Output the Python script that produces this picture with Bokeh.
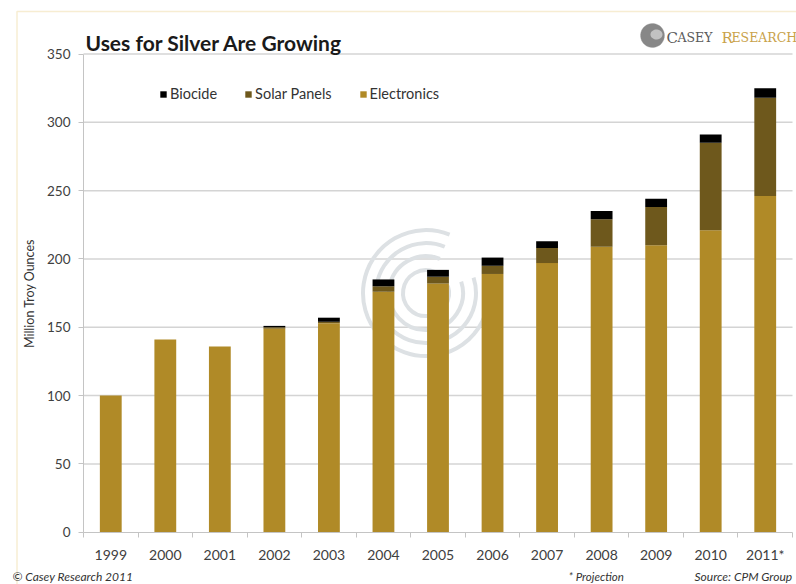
import numpy as np
from bokeh.plotting import figure
from bokeh.models import (ColumnDataSource, Range1d, FixedTicker, Legend, LegendItem,
                          Label, BoxAnnotation, PolyAnnotation, LinearAxis)
from bokeh.embed import file_html
from bokeh.resources import INLINE

# ---- data (million troy ounces) ----
years = ["1999", "2000", "2001", "2002", "2003", "2004", "2005",
         "2006", "2007", "2008", "2009", "2010", "2011*"]
electronics = [100, 141, 136, 149, 153, 176, 182, 189, 197, 209, 210, 221, 246]
solar_panels = [0, 0, 0, 1, 1, 4, 5, 6, 11, 20, 28, 64, 72]
biocide = [0, 0, 0, 1, 3, 5, 5, 6, 5, 6, 6, 6, 7]
y_ticks = [0, 50, 100, 150, 200, 250, 300, 350]

colors = ["#B08A27", "#6E581C", "#000000"]

FONT = "Lato"
TXT = "#404040"

# ---- layout (pixels) ----
W, H = 796, 584
PL, PR, PT, PB = 83, 792, 53.5, 531.7   # plot area edges
n = len(years)
ux = (PR - PL) / n
uy = (PB - PT) / 350.0
x_range = Range1d(-0.5 - PL / ux, n - 0.5 + (W - PR) / ux)
y_range = Range1d(-(H - PB) / uy, 350 + PT / uy)

src = ColumnDataSource(dict(x=list(range(n)), electronics=electronics,
                            solar=solar_panels, biocide=biocide))

p = figure(width=W, height=H, output_backend="svg", toolbar_location=None,
           x_range=x_range, y_range=y_range, x_axis_type=None, y_axis_type=None,
           min_border=0)
p.outline_line_color = None
p.background_fill_color = "white"
p.border_fill_color = "white"
p.xgrid.visible = False
p.ygrid.visible = False

# horizontal gridlines
p.segment(x0=-0.5, x1=n - 0.5, y0=y_ticks[1:], y1=y_ticks[1:],
          line_color="#d4d4d4", line_width=1.5)

# watermark rings (decoration)
p.arc(x=[5.78] * 4, y=[175] * 4, radius=[63, 50, 37, 23], radius_units="screen",
      start_angle=np.radians(68), end_angle=np.radians(378),
      line_color="#dde1e4", line_width=4)

# stacked bars
rs = p.vbar_stack(["electronics", "solar", "biocide"], x="x", width=0.4, source=src,
                  fill_color=colors, line_color=None)

# axes
yax = LinearAxis(fixed_location=-0.5, bounds=(0, 350), ticker=FixedTicker(ticks=y_ticks))
yax.axis_line_color = "#c4c4c4"
yax.major_tick_line_color = "#c4c4c4"
yax.major_tick_out = 5
yax.major_tick_in = 0
yax.minor_tick_line_color = None
yax.major_label_standoff = 8
yax.major_label_text_font = FONT
yax.major_label_text_font_size = "13.5px"
yax.major_label_text_color = TXT
yax.axis_label = "Million Troy Ounces"
yax.axis_label_text_font = FONT
yax.axis_label_text_font_style = "normal"
yax.axis_label_text_font_size = "12.5px"
yax.axis_label_text_color = "#333333"
yax.axis_label_standoff = 7
p.add_layout(yax, "left")

xax = LinearAxis(fixed_location=0, bounds=(-0.5, n - 0.5),
                 ticker=FixedTicker(ticks=list(range(n)),
                                    minor_ticks=[i - 0.5 for i in range(n + 1)]))
xax.major_label_overrides = {i: y for i, y in enumerate(years)}
xax.axis_line_color = "#c4c4c4"
xax.major_tick_line_color = None
xax.minor_tick_line_color = "#c4c4c4"
xax.minor_tick_out = 5
xax.minor_tick_in = 0
xax.major_label_standoff = 8
xax.major_label_text_font = FONT
xax.major_label_text_font_size = "14px"
xax.major_label_text_color = TXT
p.add_layout(xax, "below")

# legend
legend = Legend(items=[LegendItem(label="Biocide", renderers=[rs[2]]),
                       LegendItem(label="Solar Panels", renderers=[rs[1]]),
                       LegendItem(label="Electronics", renderers=[rs[0]])],
                orientation="horizontal", location=(159, 482),
                glyph_width=8, glyph_height=8, label_height=16, label_standoff=3,
                spacing=27, padding=0, margin=0, border_line_color=None,
                background_fill_alpha=0, label_text_font=FONT,
                label_text_font_size="14.5px", label_text_color="#333333")
p.add_layout(legend)

# gold frame border
p.add_layout(BoxAnnotation(left=16.5, right=900, top=H - 11, bottom=-50,
                           left_units="screen", right_units="screen",
                           top_units="screen", bottom_units="screen",
                           fill_alpha=0, line_color="#E6C46A", line_width=1.5))

# title
p.add_layout(Label(x=85, y=H - 42, x_units="screen", y_units="screen",
                   text="Uses for Silver Are Growing", text_font=FONT,
                   text_font_size="21px", text_font_style="bold", text_color="#1a1a1a",
                   text_baseline="alphabetic"))

# logo
th = np.linspace(0, 2 * np.pi, 40)
p.add_layout(PolyAnnotation(xs=list(652 + 12 * np.cos(th)), ys=list(H - 35 + 12 * np.sin(th)),
                            xs_units="screen", ys_units="screen",
                            fill_color="#7a7a7a", fill_alpha=0.9, line_color="#999999"))
p.add_layout(PolyAnnotation(xs=list(656 + 6 * np.cos(th)), ys=list(H - 34 + 5 * np.sin(th)),
                            xs_units="screen", ys_units="screen",
                            fill_color="#c9c9c9", fill_alpha=0.9, line_color=None))
for txt, xx, sz, col in [("C", 666, "15px", "#5a5a5a"), ("ASEY", 677, "12.5px", "#5a5a5a"),
                         ("R", 721, "15px", "#C9A24A"), ("ESEARCH", 731, "12.5px", "#C9A24A")]:
    p.add_layout(Label(x=xx, y=H - 37, x_units="screen", y_units="screen", text=txt,
                       text_font="DejaVu Serif", text_font_size=sz, text_color=col,
                       text_baseline="alphabetic"))

# footnotes
for txt, xx, sz in [("\u00a9 Casey Research 2011", 12, "12px"), ("* Projection", 568, "11.5px"),
                    ("Source: CPM Group", 694, "12px")]:
    p.add_layout(Label(x=xx, y=H - 576, x_units="screen", y_units="screen", text=txt,
                       text_font=FONT, text_font_size=sz, text_font_style="italic",
                       text_color="#333333", text_baseline="alphabetic"))

open("out.html", "w").write(file_html(p, INLINE))
